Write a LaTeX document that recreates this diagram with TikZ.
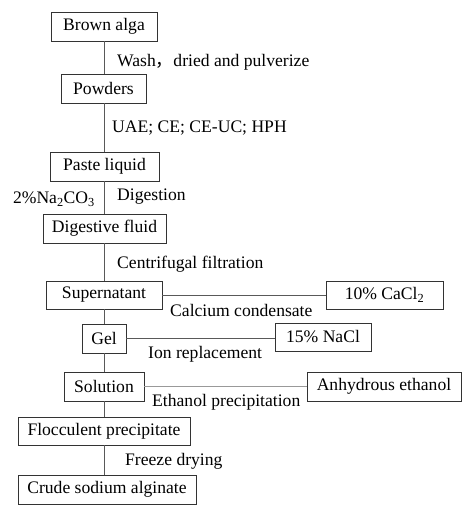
\documentclass[tikz,border=0pt]{standalone}
\usepackage{fontspec}
\setmainfont{Liberation Serif}
\newfontfamily\cjk{Noto Sans CJK SC}
\begin{document}
\begin{tikzpicture}[x=1pt,y=-1pt,
  every node/.style={font=\fontsize{17.6}{20}\selectfont, inner sep=0pt},
  box/.style={draw=black!80, line width=0.9pt, minimum height=29pt},
  lbl/.style={anchor=west},
  conn/.style={draw=black!65, line width=1pt},
  lconn/.style={draw=black!40, line width=1pt}]
\useasboundingbox (0,0) rectangle (474,520);
\node[box, minimum width=106pt] (brown) at (104,26.5) {Brown alga};
\node[box, minimum width=85pt] (powders) at (103.5,88.5) {Powders};
\node[box, minimum width=109pt] (paste) at (104.5,166.5) {Paste liquid};
\node[box, minimum width=123pt] (digest) at (104.5,228.5) {Digestive fluid};
\node[box, minimum width=116pt, minimum height=28pt] (super) at (104,295) {Supernatant};
\node[box, minimum width=117pt, minimum height=28pt] (cacl) at (384.5,295) {10\% CaCl\textsubscript{2}};
\node[box, minimum width=44pt] (gel) at (104,338.5) {Gel};
\node[box, minimum width=96pt, minimum height=28pt] (nacl) at (323,337) {15\% NaCl};
\node[box, minimum width=80pt] (solution) at (104,386.5) {Solution};
\node[box, minimum width=154pt] (ethanol) at (384,386.5) {Anhydrous ethanol};
\node[box, minimum width=172pt, minimum height=28pt] (floc) at (104,431) {Flocculent precipitate};
\node[box, minimum width=178pt] (crude) at (107,489.5) {Crude sodium alginate};

\node[lbl] (l1) at (117,62) {Wash{\cjk ，}dried and pulverize};
\node[lbl] (l2) at (112,128) {UAE; CE; CE-UC; HPH};
\node[anchor=east] (l3a) at (95,199) {2\%Na\textsubscript{2}CO\textsubscript{3}};
\node[lbl] (l3) at (117,197) {Digestion};
\node[lbl] (l4) at (117,264) {Centrifugal filtration};
\node[lbl] (l5) at (170,310) {Calcium condensate};
\node[lbl] (l6) at (148,354) {Ion replacement};
\node[lbl] (l7) at (152,402) {Ethanol precipitation};
\node[lbl] (l8) at (125,461) {Freeze drying};

\draw[conn] (brown.south) -- (brown.south |- powders.north);
\draw[conn] (brown.south |- powders.south) -- (brown.south |- paste.north);
\draw[conn] (brown.south |- paste.south) -- (brown.south |- digest.north);
\draw[conn] (brown.south |- digest.south) -- (super.north);
\draw[conn] (super.south) -- (gel.north);
\draw[conn] (gel.south) -- (solution.north);
\draw[conn] (solution.south) -- (floc.north);
\draw[conn] (floc.south) -- (floc.south |- crude.north);
\draw[conn] (super.east) -- (cacl.west);
\draw[conn] (gel.east) -- (gel.east -| nacl.west);
\draw[lconn] (solution.east) -- (ethanol.west);
\end{tikzpicture}
\end{document}
